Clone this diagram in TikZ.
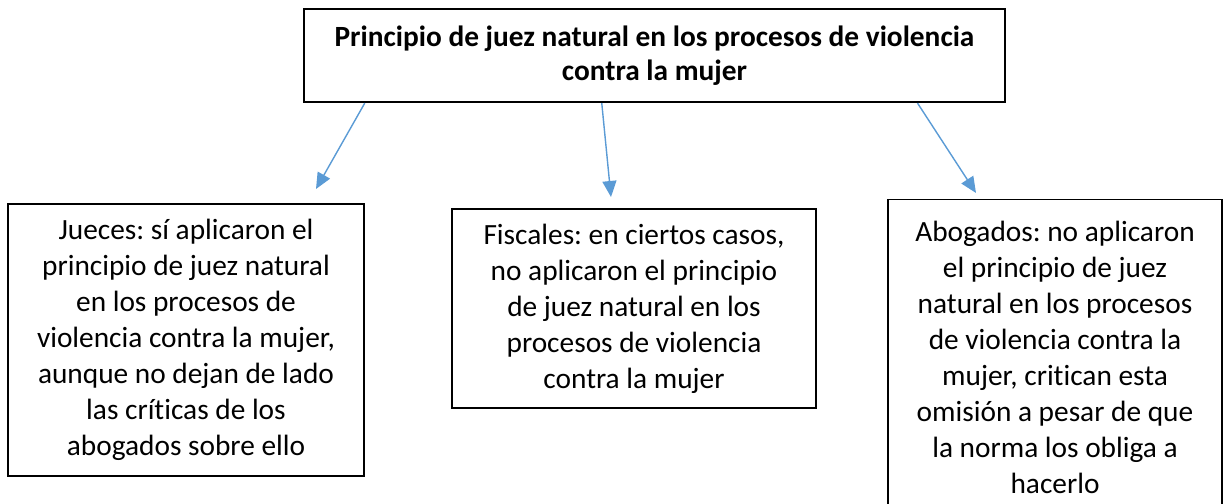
\documentclass[tikz,border=0pt]{standalone}
\usepackage{fontspec}
\setmainfont{Carlito}[Ligatures={NoCommon,NoContextual}]
\usepackage{xcolor}
\definecolor{arrowblue}{HTML}{5B9BD5}
\usetikzlibrary{
    arrows.meta,
    calc
}
\frenchspacing

\begin{document}
\begin{tikzpicture}[
            font=\fontsize{16.7}{20.5}\selectfont,
            block/.style={draw, line width=0.8pt, align=center, inner sep=0pt},
            head/.style={block, line width=1.3pt, font=\fontsize{16.7}{19.5}\selectfont\bfseries},
            arr/.style={-{Triangle[length=3.2mm, width=2.8mm]}, line width=0.8pt, arrowblue}
        ]
            \useasboundingbox (0,0) rectangle (24.48,10.08);
            \clip (0,0) rectangle (24.48,10.08);

            % ====== Title ======
            \node[head, minimum width=14.02cm, minimum height=1.86cm] (title) at (13.09, 8.97)
                {Principio de juez natural en los procesos de violencia\\contra la mujer};

            % ====== Actors ======
            \node[block, minimum width=7.12cm, minimum height=5.44cm] (jueces) at (3.72, 3.28)
                {Jueces: sí aplicaron el\\principio de juez natural\\en los procesos de\\violencia contra la mujer,\\aunque no dejan de lado\\las críticas de los\\abogados sobre ello};
            \node[block, minimum width=7.28cm, minimum height=3.98cm] (fiscales) at (12.68, 3.91)
                {Fiscales: en ciertos casos,\\no aplicaron el principio\\de juez natural en los\\procesos de violencia\\contra la mujer};
            \node[block, minimum width=6.68cm, minimum height=6.3cm, anchor=north] (abogados) at (21.10, 6.10)
                {Abogados: no aplicaron\\el principio de juez\\natural en los procesos\\de violencia contra la\\mujer, critican esta\\omisión a pesar de que\\la norma los obliga a\\hacerlo};

            % ====== Arrows ======
            \coordinate (jtip) at (6.32, 6.30);
            \coordinate (ftip) at (12.22, 6.14);
            \coordinate (atip) at (19.52, 6.22);

            \draw[arr] ($(title.south west)!0.088!(title.south east)$) -- (jtip);
            \draw[arr] ($(title.south west)!0.425!(title.south east)$) -- (ftip);
            \draw[arr] ($(title.south west)!0.874!(title.south east)$) -- (atip);
        \end{tikzpicture}
\end{document}
